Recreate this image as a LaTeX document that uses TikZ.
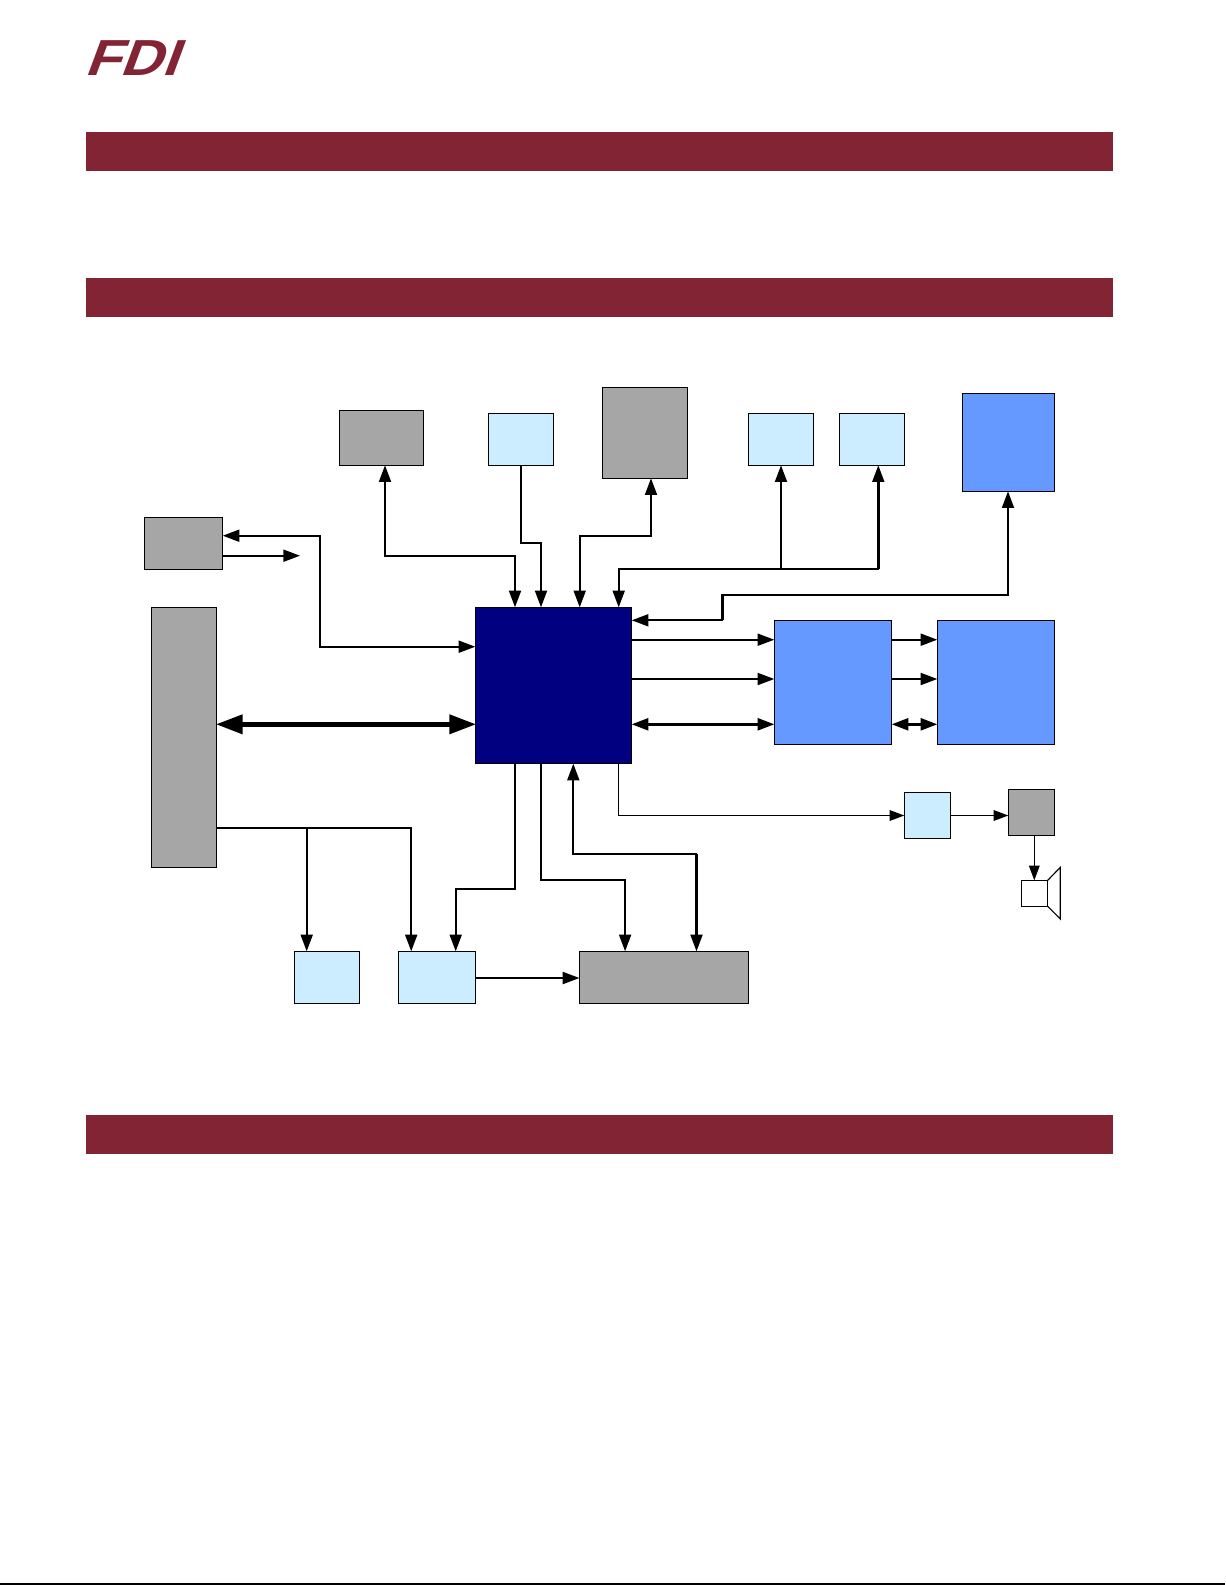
\documentclass[tikz,border=0pt]{standalone}
\usepackage{fontspec}
\usetikzlibrary{arrows.meta}
\newfontfamily\logofont[FakeSlant=0.37,FakeStretch=1.14]{Liberation Sans}
\definecolor{fdired}{HTML}{832434}
\definecolor{midgrey}{HTML}{A6A6A6}
\definecolor{paleblue}{HTML}{CCECFF}
\definecolor{midblue}{HTML}{6699FF}
\definecolor{deepnavy}{HTML}{000080}
\tikzset{
  base/.style={draw=black,line width=0.85pt,inner sep=0pt,outer sep=0pt},
  greybox/.style={base,fill=midgrey},
  palebox/.style={base,fill=paleblue},
  bluebox/.style={base,fill=midblue},
  navybox/.style={base,fill=deepnavy},
  whitebox/.style={base,fill=white},
  bar/.style={fill=fdired,draw=none,inner sep=0pt,outer sep=0pt},
  wire/.style={draw=black,line width=1.4pt,line join=miter,
     >={Triangle[length=12.5pt,width=9pt]}},
  thinwire/.style={draw=black,line width=0.85pt,line join=miter,
     >={Triangle[length=11pt,width=8pt]}},
  busone/.style={draw=black,line width=2pt},
  bigwire/.style={draw=black,line width=3.5pt,shorten <=-0.6pt,shorten >=-0.6pt,
     >={Triangle[length=20pt,width=14pt]}}
}
\newcommand{\pxbox}[6]{\node[#2,minimum width={(#5-#3)*0.75pt},minimum height={(#6-#4)*0.75pt}] (#1) at ({(#3+#5)/2},{(#4+#6)/2}) {};}
\begin{document}
\begin{tikzpicture}[x=0.75pt,y=-0.75pt]
\useasboundingbox (0,0) rectangle (1225,1585);
% logo
\node[text=fdired,inner sep=0pt,anchor=base west] (logo) at (84,75.5) {\fontsize{38}{39}\selectfont\logofont\bfseries FDI};
% section bars
\pxbox{barA}{bar}{86}{132}{1113}{170.5}
\pxbox{barB}{bar}{86}{278}{1113}{316.5}
\pxbox{barC}{bar}{86}{1115}{1113}{1153.5}
% page rule
\coordinate (ruleL) at (0,1584);
\coordinate (ruleR) at (1225,1584);
\draw[line width=0.8pt] (ruleL) -- (ruleR);
% boxes
\pxbox{gA}{greybox}{339.3}{410.3}{423.7}{465.3}
\pxbox{pA}{palebox}{488.3}{413.3}{553.7}{465.3}
\pxbox{gB}{greybox}{602.3}{387.3}{687.7}{478.3}
\pxbox{pB}{palebox}{748.3}{413.3}{813.7}{465.3}
\pxbox{pC}{palebox}{839.3}{413.3}{904.7}{465.3}
\pxbox{bA}{bluebox}{962.3}{393.3}{1054.7}{491.3}
\pxbox{bB}{bluebox}{774.3}{620.3}{891.7}{744.3}
\pxbox{bC}{bluebox}{937.3}{620.3}{1054.7}{744.3}
\pxbox{cpu}{navybox}{475.3}{607.3}{631.7}{763.7}
\pxbox{gC}{greybox}{144.3}{517.3}{222.7}{569.3}
\pxbox{gD}{greybox}{151.3}{607.3}{216.7}{867.3}
\pxbox{pD}{palebox}{294.5}{951.3}{359.4}{1003.3}
\pxbox{pE}{palebox}{398.6}{951.3}{475.7}{1003.3}
\pxbox{gE}{greybox}{579.4}{951.3}{748.8}{1003.3}
\pxbox{pF}{palebox}{904.3}{792.3}{950.7}{838.3}
\pxbox{gF}{greybox}{1008.3}{789.3}{1054.7}{835.3}
\pxbox{spk}{whitebox}{1021.3}{880.3}{1047.7}{906.3}
\draw[base,line join=miter] (spk.north east) -- (1060.3,867.3) -- (1060.3,919) -- (spk.south east);
% connectors, top
\draw[wire,<->] (385,0 |- gA.south) -- (385,555.7) -- (515,555.7) -- (515,0 |- cpu.north);
\draw[wire,->] (520.7,0 |- pA.south) -- (520.7,542.7) -- (541,542.7) -- (541,0 |- cpu.north);
\draw[wire,<->] (579.7,0 |- cpu.north) -- (579.7,535.7) -- (651,535.7) -- (651,0 |- gB.south);
\draw[wire,<->] (618.7,0 |- cpu.north) -- (618.7,568.7) -- (878.3,568.7) -- (878.3,0 |- pC.south);
\draw[busone] (878.3,568.7) -- (878.3,480);
\draw[wire,->] (781,568.7) -- (781,0 |- pB.south);
\draw[wire,<->] (cpu.east |- 0,620.3) -- (722.3,620.3) -- (722.3,595) -- (1008,595) -- (1008,0 |- bA.south);
\draw[busone] (722.3,620.3) -- (722.3,595);
% left
\draw[wire,<->] (gC.east |- 0,535.7) -- (320,535.7) -- (320,646.7) -- (cpu.west |- 0,646.7);
\coordinate (free) at (300,555.7);
\draw[wire,->] (gC.east |- free) -- (free);
\draw[bigwire,<->] (gD.east |- 0,724.3) -- (cpu.west |- 0,724.3);
% right
\draw[wire,->] (cpu.east |- 0,639.7) -- (bB.west |- 0,639.7);
\draw[wire,->] (cpu.east |- 0,679) -- (bB.west |- 0,679);
\draw[wire,<->,line width=1.8pt] (cpu.east |- 0,724.3) -- (bB.west |- 0,724.3);
\draw[wire,->] (bB.east |- 0,639.7) -- (bC.west |- 0,639.7);
\draw[wire,->] (bB.east |- 0,679) -- (bC.west |- 0,679);
\draw[wire,<->,line width=1.8pt] (bB.east |- 0,724.3) -- (bC.west |- 0,724.3);
% bottom
\draw[wire,->] (gD.east |- 0,828) -- (411.2,828) -- (411.2,0 |- pE.north);
\draw[wire,->] (306.7,828) -- (306.7,0 |- pD.north);
\draw[wire,->] (514.9,0 |- cpu.south) -- (514.9,888.7) -- (455.7,888.7) -- (455.7,0 |- pE.north);
\draw[wire,->] (541,0 |- cpu.south) -- (541,880) -- (625.1,880) -- (625.1,0 |- gE.north);
\draw[wire,<->] (573.3,0 |- cpu.south) -- (573.3,854) -- (696.5,854) -- (696.5,0 |- gE.north);
\draw[busone] (696.5,854) -- (696.5,935);
\draw[wire,->] (pE.east |- 0,978) -- (gE.west |- 0,978);
\draw[thinwire,->] (618.6,0 |- cpu.south) -- (618.6,815.5) -- (pF.west |- 0,815.5);
\draw[thinwire,->] (pF.east |- 0,815.5) -- (gF.west |- 0,815.5);
\draw[thinwire,->] (1034.3,0 |- gF.south) -- (1034.3,0 |- spk.north);
\end{tikzpicture}
\end{document}
